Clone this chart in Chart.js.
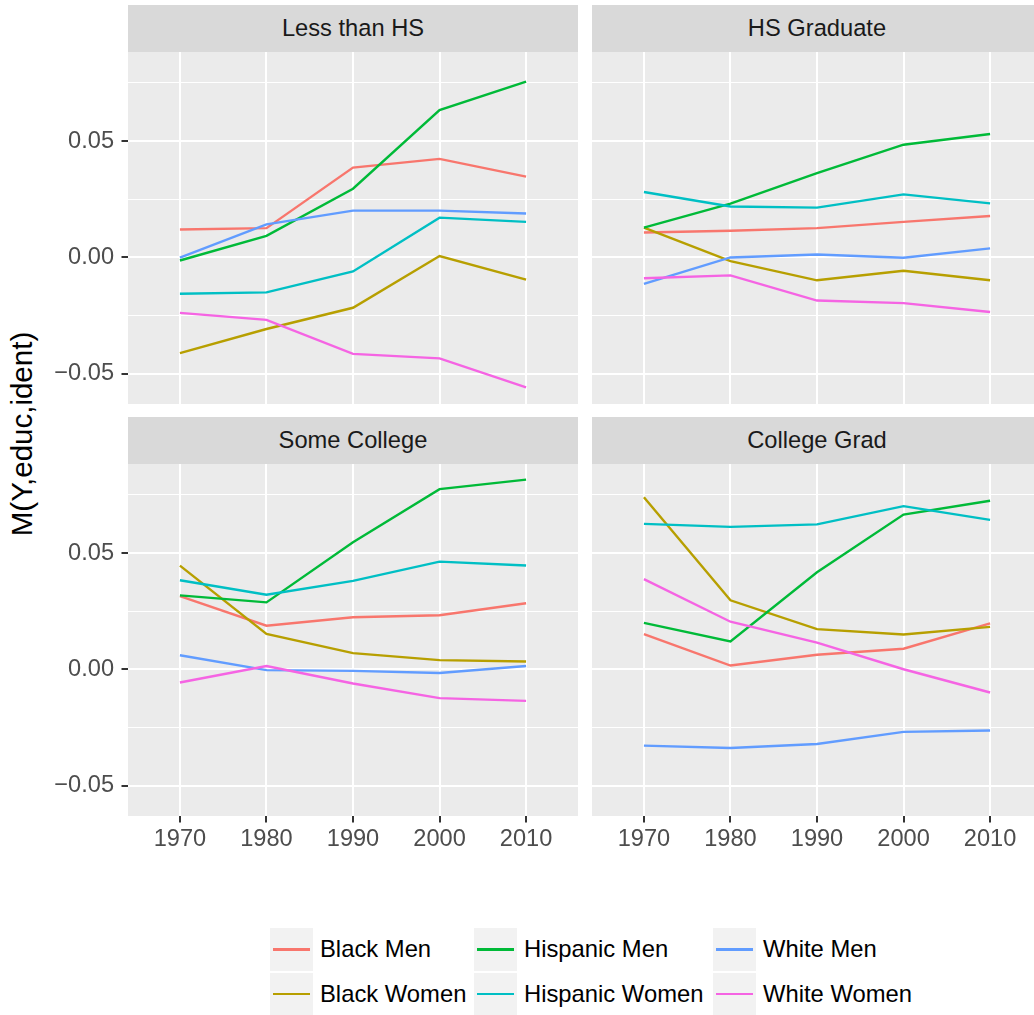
<!DOCTYPE html>
<html>
<head>
<meta charset="utf-8">
<script src="https://cdn.jsdelivr.net/npm/chart.js@4"></script>
<style>
  html, body { margin: 0; padding: 0; background: #fff; overflow: hidden; }
  #page { position: relative; width: 1034px; height: 1015px; overflow: hidden;
          font-family: "Liberation Sans", Arial, sans-serif; }
  #page canvas { position: absolute; }
  .strip { position: absolute; background: #d9d9d9; color: #1a1a1a; font-size: 23.7px;
           text-align: center; height: 47px; line-height: 47px; }
  .ytitle { position: absolute; left: 22px; top: 434px; font-size: 29.5px; color: #000;
            transform: translate(-50%, -50%) rotate(-90deg); white-space: nowrap; }
  .key { position: absolute; width: 42.5px; height: 42.5px; background: #f2f2f2; }
  .key div { position: absolute; left: 2.7px; right: 2.7px; top: 20px; height: 2.7px; }
  .ltext { position: absolute; font-size: 23.8px; color: #000; height: 42.5px; line-height: 42.5px; white-space: nowrap; }
</style>
</head>
<body>
<div id="page">
  <div class="ytitle">M(Y,educ,ident)</div>
</div>
<script>
const years = [1970, 1980, 1990, 2000, 2010];
const yearLabels = ["1970", "1980", "1990", "2000", "2010"];
const yTicks = [-0.05, -0.025, 0, 0.025, 0.05, 0.075];
const yTickLabels = ["\u22120.05", "", "0.00", "", "0.05", ""];
const groups = ["Black Men", "Black Women", "Hispanic Men", "Hispanic Women", "White Men", "White Women"];
const colors = ["#F8766D", "#B79F00", "#00BA38", "#00BFC4", "#619CFF", "#F564E3"];
const panelNames = ["Less than HS", "HS Graduate", "Some College", "College Grad"];

// one row per group, in the order of `groups`, one value per year
const lessThanHS = [
  [0.0120, 0.0126, 0.0386, 0.0423, 0.0347],
  [-0.0411, -0.0307, -0.0216, 0.0006, -0.0095],
  [-0.0013, 0.0093, 0.0295, 0.0633, 0.0755],
  [-0.0156, -0.0150, -0.0060, 0.0171, 0.0153],
  [-0.0001, 0.0142, 0.0201, 0.0201, 0.0189],
  [-0.0238, -0.0268, -0.0414, -0.0433, -0.0558],
];
const hsGraduate = [
  [0.0107, 0.0115, 0.0126, 0.0153, 0.0178],
  [0.0128, -0.0016, -0.0098, -0.0057, -0.0098],
  [0.0128, 0.0231, 0.0362, 0.0484, 0.0530],
  [0.0281, 0.0219, 0.0214, 0.0271, 0.0232],
  [-0.0113, 0.0000, 0.0013, -0.0001, 0.0039],
  [-0.0089, -0.0077, -0.0185, -0.0196, -0.0234],
];
const someCollege = [
  [0.0315, 0.0188, 0.0224, 0.0233, 0.0284],
  [0.0446, 0.0153, 0.0070, 0.0040, 0.0034],
  [0.0318, 0.0288, 0.0546, 0.0774, 0.0815],
  [0.0383, 0.0321, 0.0380, 0.0463, 0.0446],
  [0.0061, -0.0003, -0.0006, -0.0015, 0.0015],
  [-0.0056, 0.0015, -0.0060, -0.0123, -0.0135],
];
const collegeGrad = [
  [0.0152, 0.0017, 0.0063, 0.0089, 0.0198],
  [0.0739, 0.0297, 0.0173, 0.0150, 0.0183],
  [0.0200, 0.0120, 0.0417, 0.0665, 0.0724],
  [0.0625, 0.0612, 0.0623, 0.0701, 0.0642],
  [-0.0327, -0.0337, -0.0320, -0.0268, -0.0262],
  [0.0388, 0.0205, 0.0115, 0.0001, -0.0099],
];

const X_MIN = 1964, X_MAX = 2016;
const Y_MIN = -0.0629, Y_MAX = 0.0882;

Chart.defaults.font.family = "'Liberation Sans', Arial, sans-serif";
Chart.defaults.font.size = 23.6;

const page = document.getElementById("page");

const isMajor = (v) => Math.abs(v / 0.05 - Math.round(v / 0.05)) < 1e-6;

// grey panel background under the grid
const panelBg = {
  id: "panelBg",
  beforeDraw(chart) {
    const a = chart.chartArea;
    const ctx = chart.ctx;
    ctx.save();
    ctx.fillStyle = "#ebebeb";
    ctx.fillRect(a.left, a.top, a.right - a.left, a.bottom - a.top);
    ctx.restore();
  }
};

function addStrip(text, left, top, width) {
  const d = document.createElement("div");
  d.className = "strip";
  d.style.left = left + "px";
  d.style.top = top + "px";
  d.style.width = width + "px";
  d.textContent = text;
  page.appendChild(d);
}

function makePanel(values, name, col, row) {
  const showY = col === 0;
  const showX = row === 1;
  const plotLeft = col === 0 ? 128 : 592;
  const plotTop = row === 0 ? 52 : 464;
  const plotW = 450, plotH = 352;
  const yAxisW = showY ? plotLeft : 0;
  const xAxisH = showX ? 44 : 0;

  addStrip(name, plotLeft, plotTop - 47, plotW);

  const canvas = document.createElement("canvas");
  canvas.width = plotW + yAxisW;
  canvas.height = plotH + xAxisH;
  canvas.style.left = (plotLeft - yAxisW) + "px";
  canvas.style.top = plotTop + "px";
  page.appendChild(canvas);

  new Chart(canvas, {
    type: "line",
    data: {
      datasets: values.map((rowVals, i) => ({
        label: groups[i],
        data: rowVals.map((v, j) => ({ x: years[j], y: v })),
        borderColor: colors[i],
        borderWidth: 2.4,
        pointRadius: 0,
        tension: 0,
        fill: false,
        order: groups.length - 1 - i,
      })),
    },
    options: {
      responsive: false,
      animation: false,
      devicePixelRatio: 1,
      layout: { padding: 0 },
      plugins: { legend: { display: false }, tooltip: { enabled: false } },
      scales: {
        x: {
          type: "linear",
          min: X_MIN,
          max: X_MAX,
          afterBuildTicks: (s) => { s.ticks = years.map(v => ({ value: v })); },
          afterFit: (s) => { s.height = xAxisH; s.paddingLeft = 0; s.paddingRight = 0; },
          border: { display: false },
          grid: { color: "#ffffff", lineWidth: 2, drawTicks: showX, tickLength: 6.5, tickColor: "#333333", tickWidth: 2 },
          ticks: {
            display: showX, color: "#4d4d4d", padding: 3, maxRotation: 0, autoSkip: false,
            callback: (v) => yearLabels[years.indexOf(v)],
          },
        },
        y: {
          type: "linear",
          min: Y_MIN,
          max: Y_MAX,
          afterBuildTicks: (s) => { s.ticks = yTicks.map(v => ({ value: v })); },
          afterFit: (s) => { s.width = yAxisW; s.paddingTop = 0; s.paddingBottom = 0; },
          border: { display: false },
          grid: {
            color: "#ffffff",
            lineWidth: (c) => isMajor(c.tick.value) ? 2 : 1,
            drawTicks: showY,
            tickLength: 6.5,
            tickWidth: 2,
            tickColor: (c) => isMajor(c.tick.value) ? "#333333" : "rgba(0,0,0,0)",
          },
          ticks: {
            display: showY, color: "#4d4d4d", padding: 7.5, autoSkip: false,
            callback: (v) => yTickLabels[yTicks.findIndex(t => Math.abs(t - v) < 1e-9)],
          },
        },
      },
    },
    plugins: [panelBg],
  });
}

makePanel(lessThanHS, panelNames[0], 0, 0);
makePanel(hsGraduate, panelNames[1], 1, 0);
makePanel(someCollege, panelNames[2], 0, 1);
makePanel(collegeGrad, panelNames[3], 1, 1);

// legend: three columns, two rows, filled by column
const keyLefts = [270, 474, 713];
const keyTops = [928.3, 972.5];
groups.forEach((g, i) => {
  const col = Math.floor(i / 2), row = i % 2;
  const key = document.createElement("div");
  key.className = "key";
  key.style.left = keyLefts[col] + "px";
  key.style.top = keyTops[row] + "px";
  const line = document.createElement("div");
  line.style.background = colors[i];
  key.appendChild(line);
  page.appendChild(key);
  const t = document.createElement("div");
  t.className = "ltext";
  t.style.left = (keyLefts[col] + 50) + "px";
  t.style.top = keyTops[row] + "px";
  t.textContent = g;
  page.appendChild(t);
});
</script>
</body>
</html>
